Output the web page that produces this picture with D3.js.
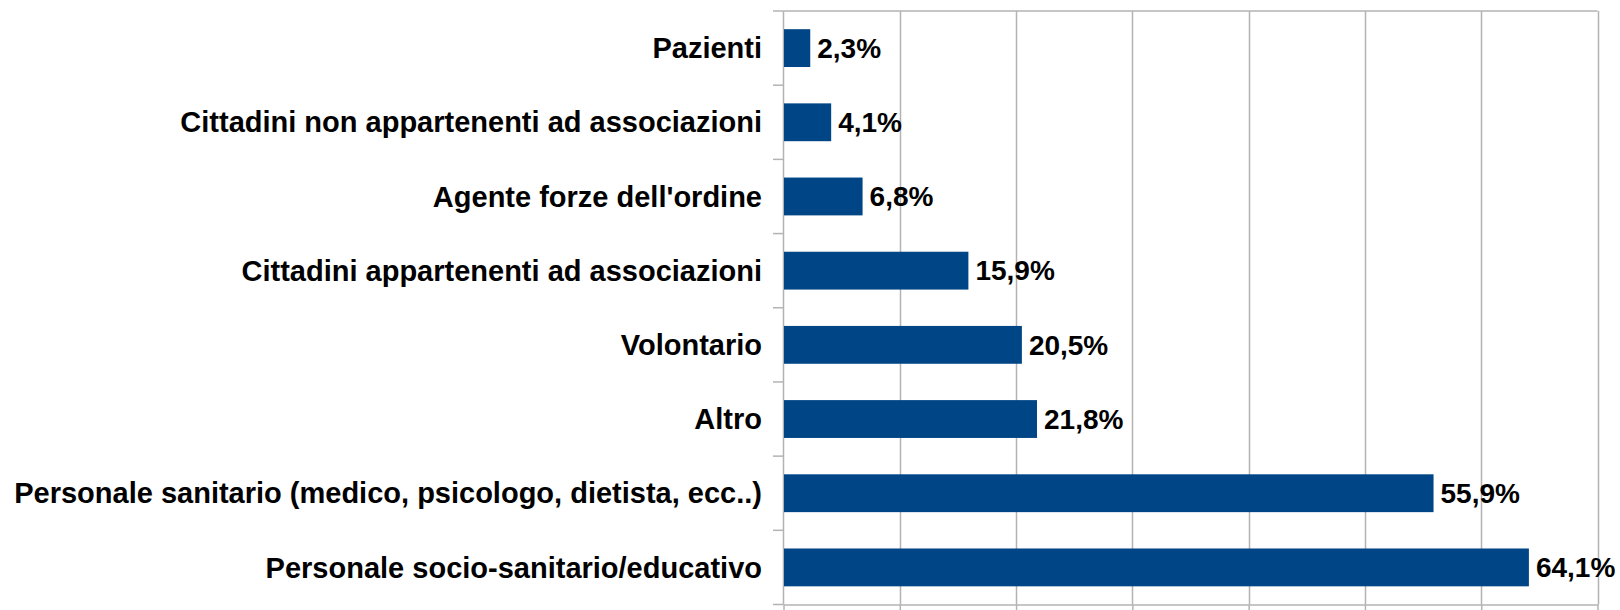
<!DOCTYPE html>
<html>
<head>
<meta charset="utf-8">
<script src="https://cdn.jsdelivr.net/npm/d3@7"></script>
<style>
    body { margin: 0; background: #ffffff; }
    text { font-family: "Liberation Sans", Arial, sans-serif; font-weight: bold; fill: #000000; }
</style>
</head>
<body>
<div id="bar-chart"></div>
<script>
const categories = [
    "Pazienti",
    "Cittadini non appartenenti ad associazioni",
    "Agente forze dell'ordine",
    "Cittadini appartenenti ad associazioni",
    "Volontario",
    "Altro",
    "Personale sanitario (medico, psicologo, dietista, ecc..)",
    "Personale socio-sanitario/educativo"
];
const values = [2.3, 4.1, 6.8, 15.9, 20.5, 21.8, 55.9, 64.1];
const xTicks = [0, 10, 20, 30, 40, 50, 60, 70];

const renderChart = () =>
{
    const data = categories.map((c, i) => ({"label": c, "value": values[i]}));

    const width = 1620;
    const height = 610;
    const left = 783.5;
    const right = 1597.5;
    const top = 11;
    const bottom = 604.5;
    const pad = 0.49;

    const xScale = d3.scaleLinear().domain([0, 70]).range([left, right]);
    const yScale = d3.scaleBand().domain(categories).range([top, bottom])
        .paddingInner(pad).paddingOuter(pad/2);

    const svg = d3.select("#bar-chart")
        .append("svg")
        .attr("width", width)
        .attr("height", height);

    // vertical grid
    svg.append("g")
        .selectAll("line")
        .data(xTicks.slice(1))
        .enter()
        .append("line")
        .attr("x1", d => Math.round(xScale(d)) + 0.5)
        .attr("x2", d => Math.round(xScale(d)) + 0.5)
        .attr("y1", top)
        .attr("y2", bottom)
        .attr("stroke", "#b3b3b3")
        .attr("stroke-width", 1.5);

    // top border
    svg.append("line")
        .attr("x1", left)
        .attr("x2", xScale(70))
        .attr("y1", top)
        .attr("y2", top)
        .attr("stroke", "#b3b3b3")
        .attr("stroke-width", 1.5);

    // x axis (ticks only, labels fall off the page)
    const xAxis = svg.append("g")
        .attr("transform", `translate(0,${bottom})`)
        .call(d3.axisBottom(xScale).tickValues(xTicks).tickFormat("").tickSize(8).tickSizeOuter(0));
    xAxis.selectAll("line").attr("stroke", "#b3b3b3").attr("stroke-width", 1.5);
    xAxis.select(".domain").attr("stroke", "#b3b3b3").attr("stroke-width", 1.5);

    // y axis line and ticks at category boundaries
    svg.append("line")
        .attr("x1", left)
        .attr("x2", left)
        .attr("y1", top)
        .attr("y2", bottom)
        .attr("stroke", "#b3b3b3")
        .attr("stroke-width", 1.5);

    const bounds = categories.map(c => yScale(c) - yScale.step()*pad/2);
    bounds.push(bottom);
    svg.append("g")
        .selectAll("line")
        .data(bounds)
        .enter()
        .append("line")
        .attr("x1", left - 10.5)
        .attr("x2", left)
        .attr("y1", d => d)
        .attr("y2", d => d)
        .attr("stroke", "#b3b3b3")
        .attr("stroke-width", 1.5);

    // bars
    svg.append("g")
        .selectAll("rect")
        .data(data)
        .enter()
        .append("rect")
        .attr("x", xScale(0) + 0.5)
        .attr("y", d => yScale(d.label))
        .attr("width", d => xScale(d.value) - xScale(0) - 0.5)
        .attr("height", yScale.bandwidth())
        .attr("fill", "#004586");

    // category labels
    svg.append("g")
        .selectAll("text")
        .data(data)
        .enter()
        .append("text")
        .attr("x", 762)
        .attr("y", d => yScale(d.label) + yScale.bandwidth()/2)
        .attr("dy", "0.35em")
        .attr("text-anchor", "end")
        .attr("font-size", "29px")
        .text(d => d.label);

    // value labels
    svg.append("g")
        .selectAll("text")
        .data(data)
        .enter()
        .append("text")
        .attr("x", d => xScale(d.value) + 7)
        .attr("y", d => yScale(d.label) + yScale.bandwidth()/2)
        .attr("dy", "0.35em")
        .attr("font-size", "28px")
        .text(d => d3.format(".1f")(d.value).replace(".", ",") + "%");
}

renderChart();
</script>
</body>
</html>
